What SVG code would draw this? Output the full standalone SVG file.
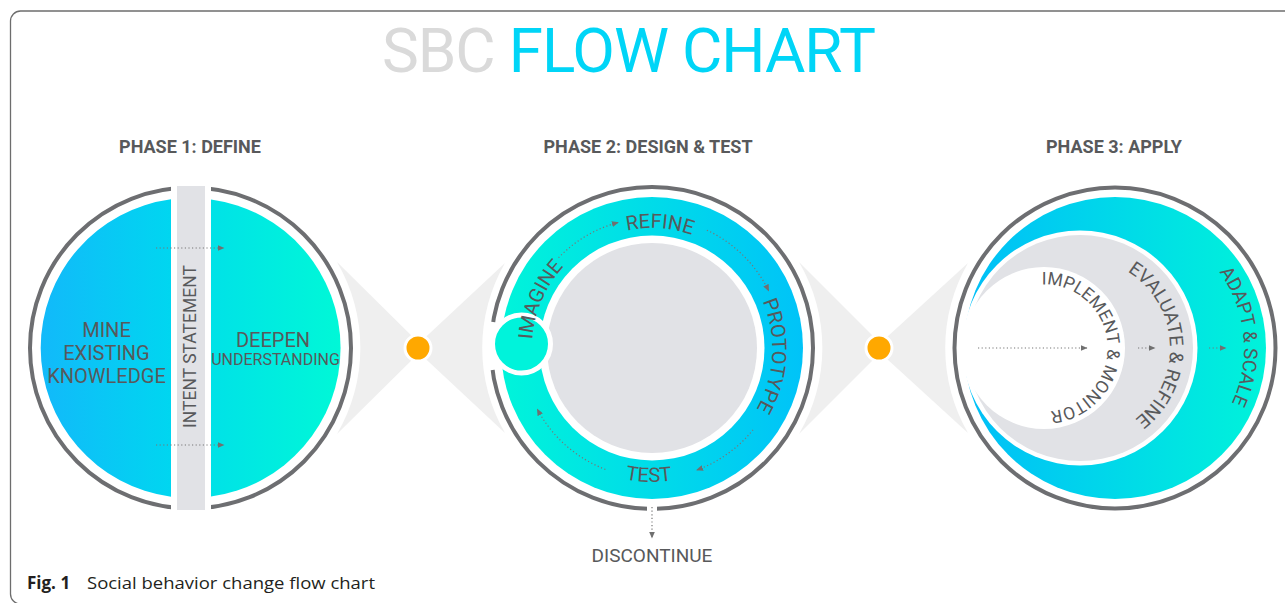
<svg xmlns="http://www.w3.org/2000/svg" width="1285" height="603" viewBox="0 0 1285 603">
<defs>
<linearGradient id="g1L" gradientUnits="userSpaceOnUse" x1="40" y1="0" x2="171" y2="0"><stop offset="0" stop-color="#12B9FA"/><stop offset="1" stop-color="#00D6F0"/></linearGradient>
<linearGradient id="g1R" gradientUnits="userSpaceOnUse" x1="211" y1="0" x2="341" y2="0"><stop offset="0" stop-color="#00E2E7"/><stop offset="1" stop-color="#00F8D7"/></linearGradient>
<linearGradient id="g2" gradientUnits="userSpaceOnUse" x1="501" y1="0" x2="803" y2="0"><stop offset="0" stop-color="#00F4DA"/><stop offset="1" stop-color="#00C3F8"/></linearGradient>
<linearGradient id="g3" gradientUnits="userSpaceOnUse" x1="964" y1="0" x2="1266" y2="0"><stop offset="0" stop-color="#00BEF8"/><stop offset="1" stop-color="#00F3DA"/></linearGradient>
<marker id="ah" viewBox="0 0 7 6" refX="6.5" refY="3" markerWidth="7" markerHeight="6" markerUnits="userSpaceOnUse" orient="auto"><path d="M0,0 L7,3 L0,6 Z" fill="#707070"/></marker>
<path id="pRefine" d="M585.6,447.9 A120,120 0 1,1 705.4,455.5"/>
<path id="pImagine" d="M723.7,444.2 A120,120 0 1,1 771.2,334.0"/>
<path id="pProto" d="M552.2,282.9 A120,120 0 1,1 545.2,402.8"/>
<path id="pTest" d="M587.9,230.3 A134,134 0 1,0 721.8,233.6"/>
<path id="pImpl" d="M987.0,320.1 A63.5,63.5 0 1,1 991.3,383.4"/>
<path id="pEval" d="M999.9,306.9 A90,90 0 1,1 1004.4,396.8"/>
<path id="pAdapt" d="M997.7,294.3 A129,129 0 1,1 1009.9,422.7"/>
</defs>
<style>
.ring{fill:none;stroke:#6D6E71;stroke-width:4}
.lbl{font-family:Roboto,"Liberation Sans",sans-serif;fill:#58595B}
.phase{font-family:Roboto,"Liberation Sans",sans-serif;font-weight:700;font-size:18px;fill:#58595B;text-anchor:middle}
.dots{fill:none;stroke:#777;stroke-width:1.2;stroke-dasharray:1.2 2.4}
.bow{fill:#EFEFEF}
.mid{text-anchor:middle}
</style>
<rect width="1285" height="603" fill="#fff"/>
<rect x="10.5" y="11" width="1300" height="593" rx="10" fill="none" stroke="#6D6D6D" stroke-width="1.3"/>

<g id="title">
<text x="628.5" y="72" text-anchor="middle" font-family="Roboto, 'Liberation Sans', sans-serif" font-size="62" letter-spacing="-1.1"><tspan fill="#DADADA">SBC </tspan><tspan fill="#00D5F7">FLOW CHART</tspan></text>
<text class="phase" x="190" y="153">PHASE 1: DEFINE</text>
<text class="phase" x="648" y="153">PHASE 2: DESIGN &amp; TEST</text>
<text class="phase" x="1114" y="153">PHASE 3: APPLY</text>
</g>

<g id="phase1">
<circle cx="190.5" cy="348" r="160.5" class="ring"/>
<path d="M171,199.3 A150,150 0 0,0 171,496.7 Z" fill="url(#g1L)"/>
<path d="M211,199.4 A150,150 0 0,1 211,496.6 Z" fill="url(#g1R)"/>
<rect x="171" y="180" width="40" height="336" fill="#fff"/>
<rect x="177" y="186" width="28" height="324" fill="#E1E2E6"/>
<g class="lbl mid" font-size="20">
<text x="106.5" y="337">MINE</text>
<text x="106.5" y="360">EXISTING</text>
<text x="106.5" y="383">KNOWLEDGE</text>
<text x="273" y="347">DEEPEN</text>
<text x="275.5" y="365" font-size="16">UNDERSTANDING</text>
<text x="196" y="346.5" font-size="17.5" transform="rotate(-90 196 346.5)">INTENT STATEMENT</text>
</g>
</g>

<g id="phase2">
<circle cx="652" cy="348" r="161" class="ring"/>
<circle cx="652" cy="348" r="151" fill="url(#g2)"/>
<circle cx="652" cy="348" r="112.5" fill="#fff"/>
<circle cx="652" cy="348" r="105" fill="#E1E2E6"/>
<path d="M493.1,322 A161,161 0 0,0 492.5,370.1" fill="none" stroke="#fff" stroke-width="7"/>
<rect x="647" y="504" width="10" height="12" fill="#fff"/>
<circle cx="521.5" cy="344" r="29" fill="#00F3DB" stroke="#fff" stroke-width="5"/>
<g class="lbl" font-size="20">
<text><textPath href="#pRefine" startOffset="50%" text-anchor="middle">REFINE</textPath></text>
<text><textPath href="#pImagine" startOffset="50%" text-anchor="middle">IMAGINE</textPath></text>
<text><textPath href="#pProto" startOffset="50%" text-anchor="middle">PROTOTYPE</textPath></text>
<text><textPath href="#pTest" startOffset="50%" text-anchor="middle">TEST</textPath></text>
</g>
<text class="lbl mid" x="652" y="562" font-size="19">DISCONTINUE</text>
</g>

<g id="phase3">
<circle cx="1115" cy="348" r="160.5" class="ring"/>
<circle cx="1115" cy="348" r="151" fill="url(#g3)"/>
<circle cx="1080" cy="348" r="117.5" fill="#fff"/>
<circle cx="1080" cy="348" r="113" fill="#E1E2E6"/>
<circle cx="1044" cy="348" r="81" fill="#fff"/>
<g class="lbl">
<text font-size="17.5"><textPath href="#pImpl" startOffset="50%" text-anchor="middle">IMPLEMENT &amp; MONITOR</textPath></text>
<text font-size="19"><textPath href="#pEval" startOffset="50%" text-anchor="middle">EVALUATE &amp; REFINE</textPath></text>
<text font-size="19"><textPath href="#pAdapt" startOffset="50%" text-anchor="middle">ADAPT &amp; SCALE</textPath></text>
</g>
</g>

<g id="connectors">
<path class="bow" d="M424,348 L337,262 A170,170 0 0,1 337,434 Z"/>
<path class="bow" d="M414,348 L505,263 A170,170 0 0,0 505,433 Z"/>
<path class="bow" d="M885,348 L799,262 A170,170 0 0,1 799,434 Z"/>
<path class="bow" d="M875,348 L968,263 A170,170 0 0,0 968,433 Z"/>
<circle cx="418" cy="348" r="13" fill="#FFA800" stroke="#fff" stroke-width="3"/>
<circle cx="879" cy="348" r="13" fill="#FFA800" stroke="#fff" stroke-width="3"/>
<g class="dots" marker-end="url(#ah)">
<path d="M156,248 H224"/>
<path d="M156,445 H224"/>
<path d="M558.5,257.7 A130,130 0 0,1 618.4,222.4"/>
<path d="M706.9,230.2 A130,130 0 0,1 768.8,291.0"/>
<path d="M753.0,429.8 A130,130 0 0,1 696.5,470.2"/>
<path d="M605.4,469.4 A130,130 0 0,1 537.2,409.0"/>
<path d="M652,507 V538"/>
<path d="M978,348 H1087"/>
<path d="M1138,348 H1155"/>
<path d="M1209,348 H1226"/>
</g>
</g>

<g id="caption">
<text x="27" y="589" font-family="'Open Sans', 'Noto Sans', sans-serif" font-size="17" font-weight="700" fill="#231F20">Fig. 1</text>
<text x="87" y="589" font-family="'Open Sans', 'Noto Sans', sans-serif" font-size="17" fill="#231F20" textLength="288" lengthAdjust="spacingAndGlyphs">Social behavior change flow chart</text>
</g>
</svg>
